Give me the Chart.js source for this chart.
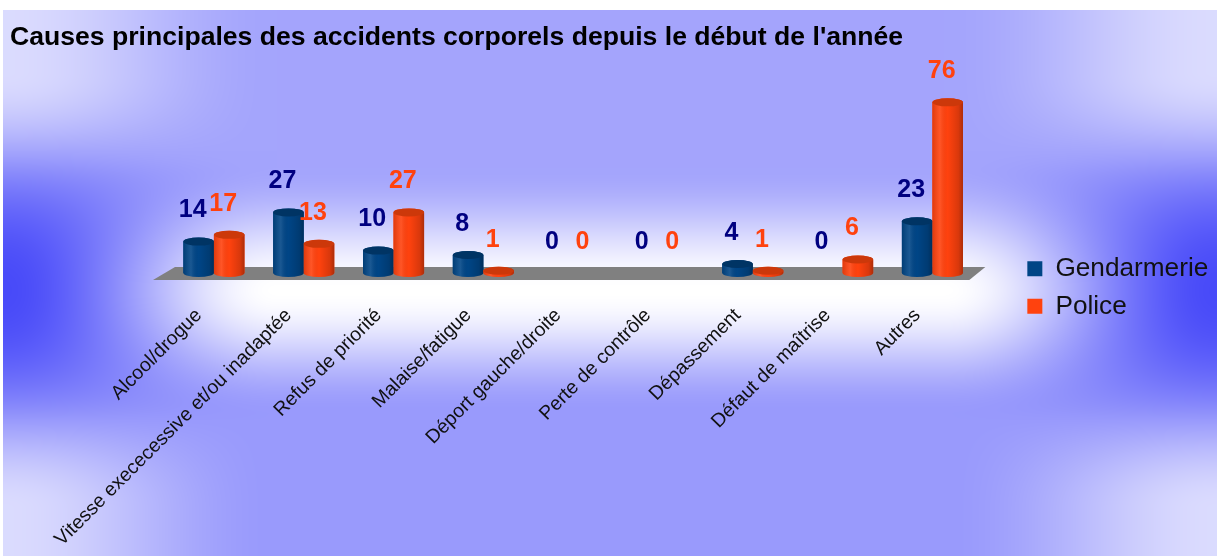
<!DOCTYPE html>
<html><head><meta charset="utf-8">
<script src="https://cdn.jsdelivr.net/npm/chart.js@4/dist/chart.umd.min.js"></script>
<style>html,body{margin:0;padding:0;background:#fff;}#wrap{position:relative;width:1219px;height:558px;}canvas{display:block;}</style>
</head><body><div id="wrap"><canvas id="c" width="1219" height="558"></canvas></div>
<script>
const chartTitle = "Causes principales des accidents corporels depuis le début de l'année";
const categories = ["Alcool/drogue","Vitesse exececessive et/ou inadaptée","Refus de priorité","Malaise/fatigue","Déport gauche/droite","Perte de contrôle","Dépassement","Défaut de maîtrise","Autres"];
const seriesNames = ["Gendarmerie","Police"];
const gendarmerie = [14,27,10,8,0,0,4,0,23];
const police = [17,13,27,1,0,0,1,6,76];

const bodyColors = ["#004586","#ff420e"];
const capColors = ["#003464","#cc380a"];
const labelColors = ["#000080","#ff420e"];
const FONT = "'Liberation Sans', Arial, sans-serif";

function ss(a,b,t){ t=Math.min(1,Math.max(0,(t-a)/(b-a))); return t*t*(3-2*t); }
let bgCanvas=null;
function makeBg(W,H){
  const c=document.createElement('canvas'); c.width=W; c.height=H;
  const g=c.getContext('2d');
  g.fillStyle='#fff'; g.fillRect(0,0,W,H);
  const x0=3,y0=10,x1=1217,y1=556, w=x1-x0, h=y1-y0;
  const img=g.createImageData(w,h); const d=img.data;
  const cx=w/2, cy=280, hw=w/2, hh=h/2;
  for(let y=0;y<h;y++){
    const v=(y-cy)/hh, av=Math.min(1,Math.abs(v));
    const sv=ss(0,0.8,av), rv=ss(0,0.45,av), bt=v<0?0.50:0.56;
    for(let x=0;x<w;x++){
      const u=Math.min(1,Math.abs((x-cx)/hw));
      const ru=ss(0.55,1,u);
      let B=ru*(1-sv)+bt*rv*(1-ru)+0.2*ru*rv;
      B=Math.min(1,Math.max(0,B));
      const i=(y*w+x)*4;
      d[i]=255-B*183; d[i+1]=255-B*181; d[i+2]=255-B*6; d[i+3]=255;
    }
  }
  g.putImageData(img,x0,y0);
  return c;
}

const bgPlugin={id:'bg',beforeDraw(chart){
  if(!bgCanvas) bgCanvas=makeBg(chart.width,chart.height);
  chart.ctx.drawImage(bgCanvas,0,0);
}};

const floorPlugin={id:'floor',beforeDatasetsDraw(chart){
  const a=chart.chartArea, ctx=chart.ctx, base=chart.scales.y.getPixelForValue(0);
  ctx.save();
  ctx.fillStyle='#808080';
  ctx.beginPath();
  ctx.moveTo(a.left+6,base-6); ctx.lineTo(a.right+8,base-6);
  ctx.lineTo(a.right-8,base+7); ctx.lineTo(a.left-16,base+7);
  ctx.closePath(); ctx.fill();
  ctx.restore();
}};

const cylPlugin={id:'cyl',afterDatasetsDraw(chart){
  const ctx=chart.ctx;
  ctx.save();
  chart.data.datasets.forEach((ds,i)=>{
    const meta=chart.getDatasetMeta(i);
    meta.data.forEach((bar,j)=>{
      const val=ds.data[j]; if(!val) return;
      const p=bar.getProps(['x','y','base','width'],true);
      const rx=p.width/2, ry=4, l=p.x-rx, r=p.x+rx;
      ctx.beginPath();
      ctx.moveTo(l,p.y); ctx.lineTo(l,p.base);
      ctx.ellipse(p.x,p.base,rx,ry,0,Math.PI,0,true);
      ctx.lineTo(r,p.y);
      ctx.ellipse(p.x,p.y,rx,ry,0,0,Math.PI,true);
      ctx.closePath();
      ctx.fillStyle=bodyColors[i]; ctx.fill();
      const gr=ctx.createLinearGradient(l,0,r,0);
      gr.addColorStop(0,'rgba(0,0,0,0.12)');
      gr.addColorStop(0.25,'rgba(255,255,255,0.10)');
      gr.addColorStop(0.5,'rgba(0,0,0,0)');
      gr.addColorStop(0.85,'rgba(0,0,0,0.15)');
      gr.addColorStop(1,'rgba(0,0,0,0.32)');
      ctx.fillStyle=gr; ctx.fill();
      ctx.beginPath();
      ctx.ellipse(p.x,p.y,rx,ry,0,0,Math.PI*2);
      ctx.fillStyle=capColors[i]; ctx.fill();
    });
  });
  ctx.font="bold 25px "+FONT; ctx.textAlign='center'; ctx.textBaseline='middle';
  chart.data.datasets.forEach((ds,i)=>{
    const meta=chart.getDatasetMeta(i);
    meta.data.forEach((bar,j)=>{
      const p=bar.getProps(['x','y'],true);
      ctx.fillStyle=labelColors[i];
      ctx.fillText(String(ds.data[j]),p.x-6,p.y-31);
    });
  });
  ctx.restore();
}};

new Chart(document.getElementById('c'),{
  type:'bar',
  data:{labels:categories,datasets:[
    {label:seriesNames[0],data:gendarmerie,backgroundColor:bodyColors[0],borderWidth:0,categoryPercentage:0.68,barPercentage:1},
    {label:seriesNames[1],data:police,backgroundColor:bodyColors[1],borderWidth:0,categoryPercentage:0.68,barPercentage:1}
  ]},
  options:{
    responsive:false, animation:false, devicePixelRatio:1,
    layout:{padding:{left:10,right:2,top:17,bottom:0}},
    plugins:{
      title:{display:true,text:chartTitle,align:'start',color:'#000',font:{family:FONT,size:26.6,weight:'bold'},padding:{top:5,bottom:17}},
      legend:{position:'right',align:'center',labels:{boxWidth:15,boxHeight:15,padding:11.5,color:'#111',font:{family:FONT,size:26.2}}},
      tooltip:{enabled:false}
    },
    scales:{
      x:{grid:{display:false,drawTicks:false},border:{display:false},
         ticks:{minRotation:45,maxRotation:45,autoSkip:false,padding:31,labelOffset:-15,color:'#111',font:{family:FONT,size:19.5}},
         afterFit:s=>{s.height=285;}},
      y:{min:0,max:90,grid:{display:false,drawTicks:false},border:{display:false},ticks:{display:false},afterFit:s=>{s.width=159;}},
      y2:{position:'right',min:0,max:1,grid:{display:false,drawTicks:false},border:{display:false},ticks:{display:false},afterFit:s=>{s.width=38.5;}}
    }
  },
  plugins:[bgPlugin,floorPlugin,cylPlugin]
});
</script></body></html>
